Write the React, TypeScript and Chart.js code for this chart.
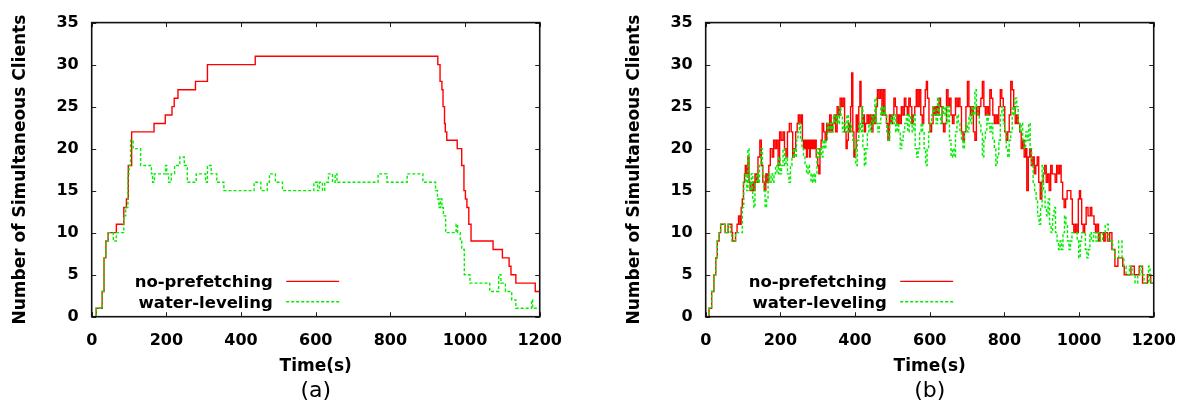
import React, { useEffect, useRef } from 'react';
import { Chart, registerables } from 'chart.js';

Chart.register(...registerables);

// ---------- data ----------
const xTickValues = [0, 200, 400, 600, 800, 1000, 1200];
const yTickValues = [0, 5, 10, 15, 20, 25, 30, 35];
const seriesLabels = ['no-prefetching', 'water-leveling'];
const captions = ['(a)', '(b)'];
const xTitle = 'Time(s)';
const yTitle = 'Number of Simultaneous Clients';

// panel (a): [time (s), clients]
const aNoPrefetching: [number, number][] = [
  [0, 0], [12, 1], [28, 3], [33, 7], [38, 9], [44, 10], [66, 11], [86, 13], [93, 14], [98, 18],
  [107, 22], [167, 23], [197, 24], [215, 25], [221, 26], [231, 27], [278, 28], [310, 30], [438, 31], [927, 30],
  [933, 28], [938, 27], [941, 25], [945, 23], [947, 22], [951, 21], [979, 20], [991, 18], [997, 15], [1001, 14],
  [1005, 13], [1010, 11], [1016, 9], [1075, 8], [1100, 7], [1118, 6], [1123, 5], [1136, 4], [1188, 3], [1200, 3],
];
const aWaterLeveling: [number, number][] = [
  [0, 0], [12, 1], [28, 3], [33, 7], [38, 9], [44, 10], [58, 9], [66, 10], [86, 12], [91, 13],
  [97, 17], [100, 18], [104, 21], [111, 20], [131, 18], [160, 17], [163, 16], [168, 17], [198, 18], [201, 17],
  [206, 16], [213, 17], [222, 18], [236, 19], [248, 18], [256, 16], [280, 17], [305, 16], [310, 18], [320, 17],
  [335, 16], [354, 15], [435, 16], [453, 15], [470, 16], [476, 17], [492, 16], [511, 15], [595, 16], [605, 15],
  [610, 16], [618, 15], [624, 16], [634, 17], [645, 16], [652, 17], [657, 16], [767, 17], [791, 16],
  [845, 17], [887, 16], [921, 15], [926, 14], [930, 13], [934, 14], [938, 13], [942, 12], [948, 10], [976, 11],
  [980, 10], [987, 9], [991, 8], [998, 5], [1013, 4], [1066, 3], [1090, 5], [1096, 4], [1108, 3], [1125, 2],
  [1136, 1], [1178, 2], [1181, 1], [1200, 1],
];

// panel (b): [time (s), clients]
const bNoPrefetching: [number, number][] = [
  [0, 0], [9, 1], [16, 3], [22, 5], [27, 7], [31, 9], [36, 10], [40, 11], [52, 10], [60, 11],
  [70, 10], [72, 9], [80, 10], [84, 11], [88, 12], [92, 11], [95, 13], [98, 14], [101, 16], [104, 17],
  [106, 18], [110, 17], [113, 19], [116, 16], [119, 15], [124, 16], [128, 15], [132, 17], [136, 16], [140, 19],
  [145, 21], [149, 18], [153, 16], [157, 15], [161, 17], [165, 16], [169, 18], [173, 20], [178, 19], [182, 21],
  [186, 20], [190, 21], [194, 18], [198, 22], [202, 21], [207, 22], [211, 20], [215, 19], [219, 22], [224, 23],
  [229, 22], [233, 19], [237, 20], [241, 22], [245, 23], [248, 24], [252, 23], [256, 24], [259, 21], [262, 20],
  [264, 21], [266, 20], [268, 21], [270, 19], [272, 21], [274, 20], [276, 21], [278, 19], [280, 21], [282, 20],
  [284, 21], [286, 20], [288, 21], [290, 20], [293, 21], [296, 19], [300, 18], [303, 17], [306, 20], [309, 21],
  [312, 23], [316, 22], [320, 21], [324, 23], [328, 22], [332, 24], [336, 22], [340, 23], [344, 24], [348, 22],
  [352, 25], [356, 24], [360, 26], [364, 25], [368, 26], [372, 22], [376, 20], [379, 21], [382, 23], [385, 22],
  [388, 25], [391, 29], [394, 22], [397, 19], [400, 20], [403, 24], [406, 22], [410, 25], [413, 28], [416, 25],
  [419, 23], [422, 24], [425, 22], [428, 23], [432, 24], [436, 23], [440, 24], [444, 22], [448, 24], [452, 23],
  [456, 25], [460, 27], [464, 26], [468, 27], [472, 24], [476, 27], [480, 24], [484, 23], [488, 21], [492, 24],
  [496, 23], [500, 24], [504, 26], [508, 25], [512, 23], [516, 24], [520, 23], [524, 25], [528, 24], [532, 26],
  [536, 25], [540, 24], [544, 26], [548, 25], [552, 23], [556, 24], [560, 25], [564, 27], [568, 25], [572, 27],
  [576, 24], [580, 23], [584, 25], [588, 27], [591, 28], [594, 26], [598, 23], [601, 22], [605, 23], [609, 25],
  [613, 24], [617, 25], [621, 24], [625, 26], [629, 25], [633, 23], [637, 22], [641, 23], [645, 27], [649, 25],
  [653, 26], [657, 24], [661, 23], [665, 24], [669, 26], [673, 25], [677, 26], [681, 25], [685, 22], [689, 21],
  [693, 22], [697, 25], [701, 28], [705, 25], [709, 24], [713, 25], [717, 22], [721, 21], [725, 25], [729, 24],
  [733, 25], [737, 26], [741, 28], [745, 25], [749, 24], [753, 25], [757, 24], [761, 27], [765, 26], [769, 24],
  [773, 23], [777, 24], [781, 23], [785, 25], [789, 27], [793, 26], [797, 25], [801, 22], [805, 21], [809, 22],
  [813, 24], [817, 28], [821, 27], [825, 25], [829, 23], [833, 24], [837, 23], [841, 22], [845, 20], [849, 21],
  [853, 19], [857, 20], [860, 15], [864, 19], [868, 20], [872, 18], [876, 19], [880, 17], [884, 18], [888, 19],
  [892, 16], [896, 14], [900, 16], [904, 17], [908, 18], [912, 16], [916, 17], [920, 15], [924, 18], [928, 17],
  [936, 16], [940, 18], [944, 17], [948, 18], [952, 16], [956, 14], [960, 13], [964, 14], [968, 15], [978, 14],
  [982, 11], [986, 10], [990, 11], [994, 10], [998, 14], [1001, 15], [1004, 14], [1007, 11], [1011, 10], [1015, 11],
  [1019, 13], [1024, 12], [1030, 13], [1034, 12], [1040, 11], [1044, 10], [1048, 11], [1052, 9], [1056, 10], [1066, 9],
  [1070, 10], [1076, 9], [1082, 10], [1088, 8], [1096, 6], [1104, 7], [1117, 6], [1121, 5], [1139, 6], [1148, 5],
  [1161, 6], [1170, 4], [1183, 5], [1192, 4], [1200, 4],
];
const bWaterLeveling: [number, number][] = [
  [0, 0], [9, 1], [16, 3], [22, 5], [27, 7], [31, 9], [36, 10], [40, 11], [52, 10], [60, 11],
  [66, 10], [70, 9], [80, 10], [98, 13], [102, 16], [106, 17], [110, 15], [113, 20], [116, 16], [119, 15],
  [122, 17], [126, 14], [129, 13], [132, 16], [136, 17], [140, 16], [144, 18], [148, 20], [152, 17], [156, 15],
  [159, 13], [163, 14], [167, 17], [171, 16], [175, 17], [179, 16], [183, 17], [187, 18], [191, 17], [195, 19],
  [199, 17], [203, 18], [207, 20], [211, 18], [215, 19], [219, 17], [223, 16], [227, 18], [231, 19], [235, 20],
  [239, 19], [243, 21], [247, 22], [251, 23], [254, 21], [258, 20], [262, 19], [266, 18], [270, 17], [274, 18],
  [278, 17], [282, 16], [286, 17], [290, 16], [294, 17], [298, 20], [302, 19], [306, 20], [310, 19], [314, 21],
  [318, 20], [322, 21], [326, 23], [330, 22], [334, 23], [338, 22], [342, 24], [346, 23], [350, 24], [354, 23],
  [358, 25], [362, 24], [366, 22], [370, 23], [374, 22], [378, 24], [382, 22], [386, 23], [390, 22], [394, 21],
  [398, 20], [402, 18], [406, 21], [410, 23], [414, 22], [418, 25], [421, 20], [425, 18], [429, 20], [433, 22],
  [437, 23], [441, 22], [445, 24], [449, 23], [453, 26], [457, 23], [461, 22], [465, 23], [469, 25], [473, 24],
  [477, 25], [481, 24], [485, 22], [489, 21], [493, 23], [497, 24], [501, 23], [505, 24], [509, 22], [513, 23],
  [517, 22], [521, 20], [525, 21], [529, 22], [533, 23], [537, 24], [541, 22], [545, 24], [549, 23], [553, 22],
  [557, 24], [561, 20], [565, 19], [569, 20], [573, 22], [577, 23], [581, 22], [585, 20], [589, 18], [593, 20],
  [597, 22], [601, 23], [605, 24], [609, 25], [613, 24], [617, 23], [621, 26], [625, 24], [629, 23], [633, 25],
  [637, 24], [641, 25], [645, 23], [649, 25], [653, 21], [657, 19], [661, 20], [665, 19], [669, 22], [673, 24],
  [677, 23], [681, 22], [685, 21], [689, 20], [693, 22], [697, 23], [701, 22], [705, 24], [709, 23], [713, 25],
  [717, 24], [721, 27], [725, 25], [729, 24], [733, 23], [737, 22], [741, 19], [745, 21], [749, 22], [753, 24],
  [757, 23], [761, 22], [765, 23], [769, 21], [773, 20], [777, 18], [781, 19], [785, 21], [789, 24], [793, 25],
  [797, 23], [801, 22], [805, 20], [809, 19], [813, 21], [817, 22], [821, 25], [825, 24], [829, 26], [833, 25],
  [837, 23], [841, 22], [845, 23], [849, 21], [853, 20], [857, 22], [861, 21], [865, 23], [869, 20], [873, 18],
  [877, 16], [881, 15], [885, 14], [889, 12], [893, 11], [897, 13], [901, 18], [905, 15], [909, 13], [913, 12],
  [917, 14], [921, 11], [925, 10], [929, 12], [933, 13], [937, 10], [941, 9], [945, 8], [949, 9], [953, 8],
  [957, 10], [961, 12], [965, 11], [969, 9], [973, 8], [977, 9], [981, 10], [995, 9], [999, 7], [1003, 9],
  [1007, 10], [1017, 8], [1021, 7], [1025, 8], [1029, 10], [1033, 9], [1039, 10], [1045, 9], [1051, 10], [1057, 9],
  [1063, 10], [1070, 11], [1078, 9], [1090, 8], [1096, 7], [1106, 9], [1115, 7], [1120, 6], [1126, 5], [1135, 6],
  [1142, 5], [1150, 4], [1157, 5], [1163, 6], [1168, 5], [1174, 4], [1186, 6], [1190, 4], [1200, 4],
];

// ---------- styling ----------
const FONT = 'DejaVu Sans';
const RED = '#ff0000';
const GREEN = '#00ee00';
const CANVAS_W = 577;
const CANVAS_H = 403;

const framePlugin = {
  id: 'gnuFrame',
  afterDatasetsDraw(chart: any, _args: any, opts: any) {
    const { ctx, chartArea } = chart;
    const { left, right, top, bottom } = chartArea;
    const xs = chart.scales.x;
    const ys = chart.scales.y;
    ctx.save();
    // inward tick marks on all four sides
    ctx.strokeStyle = '#222';
    ctx.lineWidth = 1;
    const tl = 4.5;
    ctx.beginPath();
    for (const v of xTickValues) {
      const px = Math.round(xs.getPixelForValue(v)) + 0.5;
      ctx.moveTo(px, bottom);
      ctx.lineTo(px, bottom - tl);
      ctx.moveTo(px, top);
      ctx.lineTo(px, top + tl);
    }
    for (const v of yTickValues) {
      const py = Math.round(ys.getPixelForValue(v)) + 0.5;
      ctx.moveTo(left, py);
      ctx.lineTo(left + tl, py);
      ctx.moveTo(right, py);
      ctx.lineTo(right - tl, py);
    }
    ctx.stroke();
    // border
    ctx.strokeStyle = '#111';
    ctx.lineWidth = 1.6;
    ctx.strokeRect(left, top, right - left, bottom - top);

    // legend (gnuplot style: right-aligned text, sample to the right)
    ctx.font = `bold 16.5px "${FONT}"`;
    ctx.textAlign = 'right';
    ctx.textBaseline = 'alphabetic';
    chart.data.datasets.forEach((ds: any, i: number) => {
      const rowY = bottom - 35.3 + i * 20.3;
      ctx.fillStyle = '#000';
      ctx.fillText(ds.label, left + 181, rowY + 5.8);
      ctx.strokeStyle = ds.borderColor;
      ctx.lineWidth = ds.borderWidth;
      ctx.setLineDash(ds.borderDash || []);
      ctx.beginPath();
      ctx.moveTo(left + 194.5, rowY);
      ctx.lineTo(left + 247.5, rowY);
      ctx.stroke();
      ctx.setLineDash([]);
    });

    // caption under the x-axis title
    ctx.fillStyle = '#000';
    ctx.font = `22px "${FONT}"`;
    ctx.textAlign = 'center';
    ctx.textBaseline = 'middle';
    ctx.fillText(opts.caption, (left + right) / 2, 391);
    ctx.restore();
  },
};

function toPoints(arr: [number, number][]) {
  return arr.map(([x, y]) => ({ x, y }));
}

function PanelChart({ red, green, caption, leftPos }: { red: [number, number][]; green: [number, number][]; caption: string; leftPos: number }) {
  const ref = useRef<HTMLCanvasElement | null>(null);
  useEffect(() => {
    if (!ref.current) return;
    const chart = new Chart(ref.current, {
      type: 'line',
      data: {
        datasets: [
          {
            label: seriesLabels[0],
            data: toPoints(red),
            borderColor: RED,
            backgroundColor: RED,
            borderWidth: 1.4,
            pointRadius: 0,
            stepped: true,
            fill: false,
            order: 1,
          },
          {
            label: seriesLabels[1],
            data: toPoints(green),
            borderColor: GREEN,
            backgroundColor: GREEN,
            borderWidth: 1.4,
            borderDash: [3, 2],
            pointRadius: 0,
            stepped: true,
            fill: false,
            order: 0,
          },
        ],
      },
      options: {
        animation: false,
        responsive: false,
        devicePixelRatio: 1,
        layout: { padding: { left: 0, right: CANVAS_W - 550.5, top: 20.7, bottom: 0 } },
        plugins: {
          legend: { display: false },
          tooltip: { enabled: false },
          gnuFrame: { caption },
        } as any,
        scales: {
          x: {
            type: 'linear',
            min: 0,
            max: 1200,
            grid: { display: false, drawTicks: false },
            border: { display: false },
            afterBuildTicks: (s: any) => {
              s.ticks = xTickValues.map((v) => ({ value: v }));
            },
            afterFit: (s: any) => {
              s.height = CANVAS_H - 316.7;
            },
            ticks: {
              autoSkip: false,
              maxRotation: 0,
              padding: 15,
              color: '#000',
              font: { family: FONT, size: 16, weight: 'bold' },
              callback: (v: any) => String(v),
            },
            title: {
              display: true,
              text: xTitle,
              color: '#000',
              font: { family: FONT, size: 17, weight: 'bold' },
              padding: { top: 0, bottom: 26 },
            },
          },
          y: {
            type: 'linear',
            min: 0,
            max: 35,
            grid: { display: false, drawTicks: false },
            border: { display: false },
            afterBuildTicks: (s: any) => {
              s.ticks = yTickValues.map((v) => ({ value: v }));
            },
            afterFit: (s: any) => {
              s.width = 91.7;
            },
            ticks: {
              autoSkip: false,
              padding: 13,
              color: '#000',
              font: { family: FONT, size: 16, weight: 'bold' },
              callback: (v: any) => String(v),
            },
            title: {
              display: true,
              text: yTitle,
              color: '#000',
              font: { family: FONT, size: 17, weight: 'bold' },
              padding: { top: 10.6, bottom: 0 },
            },
          },
        },
      } as any,
      plugins: [framePlugin],
    });
    return () => chart.destroy();
  }, [red, green, caption]);
  return (
    <canvas
      ref={ref}
      width={CANVAS_W}
      height={CANVAS_H}
      style={{ position: 'absolute', left: leftPos, top: 0, width: CANVAS_W, height: CANVAS_H, display: 'block' }}
    />
  );
}

export default function App() {
  return (
    <div style={{ position: 'absolute', left: 0, top: 0, width: 1191, height: 403, background: '#fff', overflow: 'hidden' }}>
      <PanelChart red={aNoPrefetching} green={aWaterLeveling} caption={captions[0]} leftPos={0} />
      <PanelChart red={bNoPrefetching} green={bWaterLeveling} caption={captions[1]} leftPos={614} />
    </div>
  );
}
